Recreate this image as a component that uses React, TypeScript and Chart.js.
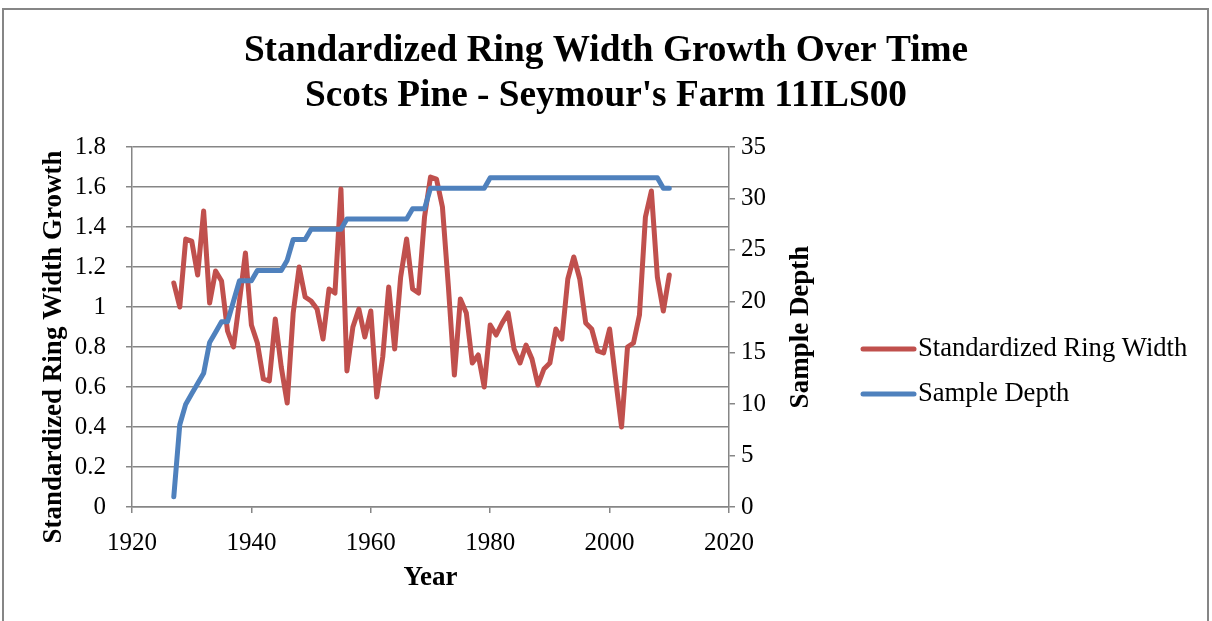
import { useEffect, useRef } from 'react';
import { Chart, registerables } from 'chart.js';

Chart.register(...registerables);

const FONT = "'Liberation Serif', 'Times New Roman', serif";
const GRAY = '#868686';
const RED = '#C0504D';
const BLUE = '#4F81BD';

const chartTitle = ['Standardized Ring Width Growth Over Time', "Scots Pine - Seymour's Farm 11ILS00"];
const xAxisTitle = 'Year';
const leftAxisTitle = 'Standardized Ring Width Growth';
const rightAxisTitle = 'Sample Depth';
const seriesNames = ['Standardized Ring Width', 'Sample Depth'];

const years = [
  1927, 1928, 1929,
  1930, 1931, 1932, 1933, 1934, 1935, 1936, 1937, 1938, 1939,
  1940, 1941, 1942, 1943, 1944, 1945, 1946, 1947, 1948, 1949,
  1950, 1951, 1952, 1953, 1954, 1955, 1956, 1957, 1958, 1959,
  1960, 1961, 1962, 1963, 1964, 1965, 1966, 1967, 1968, 1969,
  1970, 1971, 1972, 1973, 1974, 1975, 1976, 1977, 1978, 1979,
  1980, 1981, 1982, 1983, 1984, 1985, 1986, 1987, 1988, 1989,
  1990, 1991, 1992, 1993, 1994, 1995, 1996, 1997, 1998, 1999,
  2000, 2001, 2002, 2003, 2004, 2005, 2006, 2007, 2008, 2009,
  2010,
];

const ringWidth = [
  1.12, 1.0, 1.34,
  1.33, 1.16, 1.48, 1.02, 1.18, 1.13, 0.88, 0.8, 1.03, 1.27,
  0.91, 0.82, 0.64, 0.63, 0.94, 0.7, 0.52, 0.97, 1.2, 1.05,
  1.03, 0.99, 0.84, 1.09, 1.07, 1.59, 0.68, 0.9, 0.99, 0.85,
  0.98, 0.55, 0.75, 1.1, 0.79, 1.15, 1.34, 1.09, 1.07, 1.45,
  1.65, 1.64, 1.5, 1.1, 0.66, 1.04, 0.97, 0.72, 0.76, 0.6,
  0.91, 0.86, 0.92, 0.97, 0.79, 0.72, 0.81, 0.74, 0.61, 0.69,
  0.72, 0.89, 0.84, 1.14, 1.25, 1.14, 0.92, 0.89, 0.78, 0.77,
  0.89, 0.64, 0.4, 0.8, 0.82, 0.96, 1.45, 1.58, 1.15, 0.98,
  1.16,
];

const sampleDepth = [
  1, 8, 10,
  11, 12, 13, 16, 17, 18, 18, 20, 22, 22,
  22, 23, 23, 23, 23, 23, 24, 26, 26, 26,
  27, 27, 27, 27, 27, 27, 28, 28, 28, 28,
  28, 28, 28, 28, 28, 28, 28, 29, 29, 29,
  31, 31, 31, 31, 31, 31, 31, 31, 31, 31,
  32, 32, 32, 32, 32, 32, 32, 32, 32, 32,
  32, 32, 32, 32, 32, 32, 32, 32, 32, 32,
  32, 32, 32, 32, 32, 32, 32, 32, 32, 31,
  31,
];

const xTicks = { min: 1920, max: 2020, step: 20 };
const leftTicks = { min: 0, max: 1.8, step: 0.2 };
const rightTicks = { min: 0, max: 35, step: 5 };

const framePlugin = {
  id: 'frame',
  beforeDraw(chart: any) {
    const { ctx, width, height } = chart;
    ctx.save();
    ctx.fillStyle = '#ffffff';
    ctx.fillRect(0, 0, width, height);
    ctx.strokeStyle = GRAY;
    ctx.lineWidth = 2;
    ctx.strokeRect(3, 9, 1205, height + 20);
    ctx.restore();
  },
};

const extrasPlugin = {
  id: 'extras',
  afterDraw(chart: any) {
    const { ctx } = chart;
    ctx.save();
    // axis titles (both read bottom-to-top)
    ctx.fillStyle = '#000';
    ctx.font = `bold 27px ${FONT}`;
    ctx.textAlign = 'center';
    ctx.textBaseline = 'middle';
    ctx.save();
    ctx.translate(54, 347);
    ctx.rotate(-Math.PI / 2);
    ctx.fillText(leftAxisTitle, 0, 0);
    ctx.restore();
    ctx.save();
    ctx.translate(801, 327);
    ctx.rotate(-Math.PI / 2);
    ctx.fillText(rightAxisTitle, 0, 0);
    ctx.restore();

    // legend
    const items = [
      { label: seriesNames[0], color: RED, y: 349 },
      { label: seriesNames[1], color: BLUE, y: 394 },
    ];
    ctx.font = `26.6px ${FONT}`;
    ctx.textAlign = 'left';
    items.forEach((it) => {
      ctx.strokeStyle = it.color;
      ctx.lineWidth = 5;
      ctx.lineCap = 'round';
      ctx.beginPath();
      ctx.moveTo(863, it.y);
      ctx.lineTo(914, it.y);
      ctx.stroke();
      ctx.fillStyle = '#000';
      ctx.fillText(it.label, 918, it.y);
    });
    ctx.restore();
  },
};

export default function App() {
  const ref = useRef<HTMLCanvasElement>(null);

  useEffect(() => {
    const canvas = ref.current;
    if (!canvas) return;
    const chart = new Chart(canvas, {
      type: 'line',
      data: {
        datasets: [
          {
            label: seriesNames[0],
            data: years.map((yr, i) => ({ x: yr, y: ringWidth[i] })),
            borderColor: RED,
            backgroundColor: RED,
            borderWidth: 5,
            pointRadius: 0,
            tension: 0,
            borderJoinStyle: 'round',
            borderCapStyle: 'round',
            yAxisID: 'y',
            order: 1,
          },
          {
            label: seriesNames[1],
            data: years.map((yr, i) => ({ x: yr, y: sampleDepth[i] })),
            borderColor: BLUE,
            backgroundColor: BLUE,
            borderWidth: 5,
            pointRadius: 0,
            tension: 0,
            borderJoinStyle: 'round',
            borderCapStyle: 'round',
            yAxisID: 'y1',
            order: 0,
          },
        ],
      },
      options: {
        responsive: false,
        animation: false,
        events: [],
        layout: { padding: 0 },
        plugins: {
          legend: { display: false },
          tooltip: { enabled: false },
          title: {
            display: true,
            text: chartTitle,
            color: '#000',
            font: { family: FONT, size: 37.3, weight: 'bold', lineHeight: 45 / 37.3 },
            padding: { top: 28.5, bottom: 28.5 },
          },
        },
        scales: {
          x: {
            type: 'linear',
            min: xTicks.min,
            max: xTicks.max,
            ticks: {
              stepSize: xTicks.step,
              callback: (v: any) => String(v),
              color: '#000',
              font: { family: FONT, size: 25 },
              padding: 15,
              maxRotation: 0,
              autoSkip: false,
            },
            grid: { drawOnChartArea: false, drawTicks: true, tickLength: 6, color: GRAY, lineWidth: 1.5 },
            border: { display: true, color: GRAY, width: 1.5 },
            title: {
              display: true,
              text: xAxisTitle,
              color: '#000',
              font: { family: FONT, size: 27, weight: 'bold' },
              padding: { top: 0, bottom: 26.8 },
            },
            afterFit: (s: any) => {
              s.height = 114;
            },
          },
          y: {
            position: 'left',
            min: leftTicks.min,
            max: leftTicks.max,
            ticks: {
              stepSize: leftTicks.step,
              callback: (v: any) => String(Number(Number(v).toFixed(1))),
              color: '#000',
              font: { family: FONT, size: 25 },
              padding: 20,
            },
            grid: { color: GRAY, lineWidth: 1.5, tickLength: 6 },
            border: { display: true, color: GRAY, width: 1.5 },
            afterFit: (s: any) => {
              s.width = 132;
            },
          },
          y1: {
            position: 'right',
            min: rightTicks.min,
            max: rightTicks.max,
            ticks: {
              stepSize: rightTicks.step,
              color: '#000',
              font: { family: FONT, size: 25 },
              padding: 6,
            },
            grid: { drawOnChartArea: false, color: GRAY, lineWidth: 1.5, tickLength: 6 },
            border: { display: true, color: GRAY, width: 1.5 },
            afterFit: (s: any) => {
              s.width = 1212 - 729;
            },
          },
        },
      } as any,
      plugins: [framePlugin, extrasPlugin],
    });
    return () => chart.destroy();
  }, []);

  return (
    <div style={{ position: 'absolute', left: 0, top: 0, width: 1212, height: 621, background: '#fff' }}>
      <canvas ref={ref} width={1212} height={621} style={{ width: 1212, height: 621, display: 'block' }} />
    </div>
  );
}
